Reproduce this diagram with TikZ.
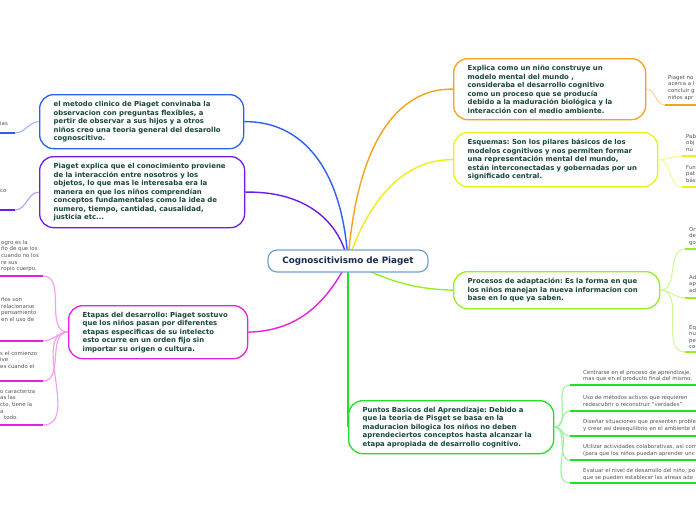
\documentclass[tikz,border=0pt]{standalone}
\usepackage{fontspec}
\setmainfont{DejaVu Sans}
\frenchspacing
\definecolor{maintext}{HTML}{17463A}
\definecolor{centertext}{HTML}{1B2B4B}
\definecolor{centerline}{HTML}{6FA0D8}
\definecolor{subtext}{HTML}{555555}
\definecolor{cBlue}{HTML}{2B5FF0}
\definecolor{cPurple}{HTML}{6B1DE8}
\definecolor{cMagenta}{HTML}{E61EE6}
\definecolor{cOrange}{HTML}{F7A21B}
\definecolor{cYellow}{HTML}{EEEE18}
\definecolor{cLime}{HTML}{99EE22}
\definecolor{cGreen}{HTML}{22E022}
\begin{document}
\begin{tikzpicture}[x=1pt,y=-1pt,
  mainbox/.style={draw=#1, rounded corners=14pt, line width=1.3pt, fill=white,
    text=maintext, font=\fontsize{6.9}{8.5}\selectfont\bfseries, align=left,
    anchor=north west, inner xsep=14pt, inner ysep=0pt},
  maincon/.style={draw=#1, line width=1.4pt},
  subcurve/.style={draw=#1!45!white, line width=1.1pt},
  uline/.style={draw=#1, line width=1.8pt},
  subtxt/.style={text=subtext, font=\fontsize{5.4}{6.6}\selectfont, align=left,
    anchor=north west, inner sep=0pt}]
\useasboundingbox (0,0) rectangle (696,520);

\coordinate (hub) at (348,261);

% main nodes
\node[mainbox=cBlue, minimum width=204pt, minimum height=54pt, text width=176pt] (blue) at (39,94)
 {el metodo clinico de Piaget convinaba la\\observacion con preguntas flexibles, a\\pertir de observar a sus hijos y a otros\\niños creo una teoria general del desarollo\\cognoscitivo.};
\node[mainbox=cPurple, minimum width=205pt, minimum height=71pt, text width=177pt] (purple) at (39,156)
 {Piaget explica que el conocimiento proviene\\de la interacción entre nosotros y los\\objetos, lo que mas le interesaba era la\\manera en que los niños comprendían\\conceptos fundamentales como la idea de\\numero, tiempo, cantidad, causalidad,\\justicia etc...};
\node[mainbox=cMagenta, minimum width=179pt, minimum height=53pt, text width=151pt] (etapas) at (68,305)
 {Etapas del desarrollo: Piaget sostuvo\\que los niños pasan por diferentes\\etapas especificas de su intelecto\\esto ocurre en un orden fijo sin\\importar su origen o cultura.};
\node[mainbox=cOrange, minimum width=192pt, minimum height=61pt, text width=164pt] (orange) at (453,58)
 {Explica como un niño construye un\\modelo mental del mundo ,\\consideraba el desarrollo cognitivo\\como un proceso que se producía\\debido a la maduración biológica y la\\interacción con el medio ambiente.};
\node[mainbox=cYellow, minimum width=204pt, minimum height=54pt, text width=176pt] (yellow) at (453,132)
 {Esquemas: Son los pilares básicos de los\\modelos cognitivos y nos permiten formar\\una representación mental del mundo,\\están interconectadas y gobernadas por un\\significado central.};
\node[mainbox=cLime, minimum width=206pt, minimum height=37pt, text width=178pt] (procesos) at (453,271)
 {Procesos de adaptación: Es la forma en que\\los niños manejan la nueva informacion con\\base en lo que ya saben.};
\node[mainbox=cGreen, minimum width=205pt, minimum height=53pt, text width=177pt] (puntos) at (348,400)
 {Puntos Basicos del Aprendizaje: Debido a\\que la teoria de Pisget se basa en la\\maduracion bilogica los niños no deben\\aprendeciertos conceptos hasta alcanzar la\\etapa apropiada de desarrollo cognitivo.};

% main connectors (drawn behind center node)
\draw[maincon=cBlue] (hub) .. controls (342,165) and (300,121) .. (blue.east);
\draw[maincon=cPurple] (hub) .. controls (336,210) and (292,191) .. (purple.east);
\draw[maincon=cOrange] (hub) .. controls (358,130) and (405,88) .. (orange.west);
\draw[maincon=cYellow] (hub) .. controls (372,190) and (410,159) .. (yellow.west);
\draw[maincon=cLime] (hub) .. controls (395,285) and (420,289) .. (procesos.west);
\draw[maincon=cMagenta] (hub) .. controls (322,312) and (290,331) .. (etapas.east);
\draw[maincon=cGreen] (hub) -- (puntos.west);

% center node
\node[draw=centerline, line width=1.2pt, rounded corners=9pt, fill=white,
  minimum width=160pt, minimum height=22pt, inner sep=0pt, text=centertext,
  font=\fontsize{8.8}{10}\selectfont\bfseries] (center) at (hub) {Cognoscitivismo de Piaget};

% ---------- sub-branches: orange
\coordinate (o1) at (665,105); \coordinate (o1e) at (700,105);
\draw[subcurve=cOrange] (orange.east) to[out=0,in=180] (o1);
\draw[uline=cOrange] (o1) -- (o1e);
\node[subtxt] (o1t) at (668,75) {Piaget no\\acerca a l\\concluir g\\niños apr};

% yellow
\coordinate (y1) at (682,156); \coordinate (y1e) at (700,156);
\coordinate (y2) at (682,187); \coordinate (y2e) at (700,187);
\draw[subcurve=cYellow] (yellow.east) to[out=0,in=180] (y1);
\draw[subcurve=cYellow] (yellow.east) to[out=0,in=180] (y2);
\draw[uline=cYellow] (y1) -- (y1e);
\draw[uline=cYellow] (y2) -- (y2e);
\node[subtxt] (y1t) at (686,134) {Pab\\obj\\nú};
\node[subtxt] (y2t) at (686,165) {Fun\\pat\\bás};

% lime
\coordinate (p1) at (685,249); \coordinate (p1e) at (700,249);
\coordinate (p2) at (685,298); \coordinate (p2e) at (700,298);
\coordinate (p3) at (685,352); \coordinate (p3e) at (700,352);
\draw[subcurve=cLime] (procesos.east) to[out=0,in=180] (p1);
\draw[subcurve=cLime] (procesos.east) to[out=0,in=180] (p2);
\draw[subcurve=cLime] (procesos.east) to[out=0,in=180] (p3);
\draw[uline=cLime] (p1) -- (p1e);
\draw[uline=cLime] (p2) -- (p2e);
\draw[uline=cLime] (p3) -- (p3e);
\node[subtxt] (p1t) at (689,227) {Or\\de\\go};
\node[subtxt] (p2t) at (689,275) {Ad\\ap\\ad};
\node[subtxt] (p3t) at (689,325) {Eq\\nu\\pe\\co};

% green
\foreach \n/\yy in {1/385,2/411,3/436,4/460,5/483}{
  \coordinate (g\n) at (570,\yy); \coordinate (g\n e) at (700,\yy);
}
\foreach \n in {1,...,5}{
  \draw[subcurve=cGreen] (puntos.east) to[out=0,in=180] (g\n);
  \draw[uline=cGreen] (g\n) -- (g\n e);
}
\node[subtxt] (g1t) at (583,370) {Centrarse en el proceso de aprendizaje,\\mas que en el producto final del mismo.};
\node[subtxt] (g2t) at (583,395) {Uso de métodos activos que requieren\\redescubrir o reconstruir "verdades"};
\node[subtxt] (g3t) at (583,419) {Diseñar situaciones que presenten proble\\y crear así desequilibrio en el ambiente d};
\node[subtxt] (g4t) at (583,444) {Utilizar actividades colaborativas, así com\\(para que los niños puedan aprender unc};
\node[subtxt] (g5t) at (583,468) {Evaluar el nivel de desarrollo del niño, po\\que se pueden establecer las atreas ade};

% blue / purple left subs
\coordinate (b1) at (15,133); \coordinate (b1e) at (-4,133);
\draw[subcurve=cBlue] (blue.west) to[out=180,in=0] (b1);
\draw[uline=cBlue] (b1) -- (b1e);
\node[subtxt] (b1t) at (0,121) {ias};
\coordinate (pu1) at (15,210); \coordinate (pu1e) at (-4,210);
\draw[subcurve=cPurple] (purple.west) to[out=180,in=0] (pu1);
\draw[uline=cPurple] (pu1) -- (pu1e);
\node[subtxt] (pu1t) at (0,189) {co};

% magenta left subs
\foreach \n/\yy in {1/276,2/341,3/381,4/425}{
  \coordinate (e\n) at (43,\yy); \coordinate (e\n e) at (-4,\yy);
}
\foreach \n in {1,...,4}{
  \draw[subcurve=cMagenta] (etapas.west) to[out=180,in=0] (e\n);
  \draw[uline=cMagenta] (e\n) -- (e\n e);
}
\node[subtxt] (e1t) at (1,240) {ogro es la\\ño de que los\\cuando no los\\re sus\\ropio cuerpo.};
\node[subtxt] (e2t) at (1,297) {ños son\\relacionarse\\pensamiento\\en el uso de};
\node[subtxt] (e3t) at (0,351) {s el comienzo\\ive\\es cuando el};
\node[subtxt] (e4t) at (0,389) {o caracteriza\\as las\\cto, tiene la\\a\\\hspace*{4pt}todo.};
\end{tikzpicture}
\end{document}
